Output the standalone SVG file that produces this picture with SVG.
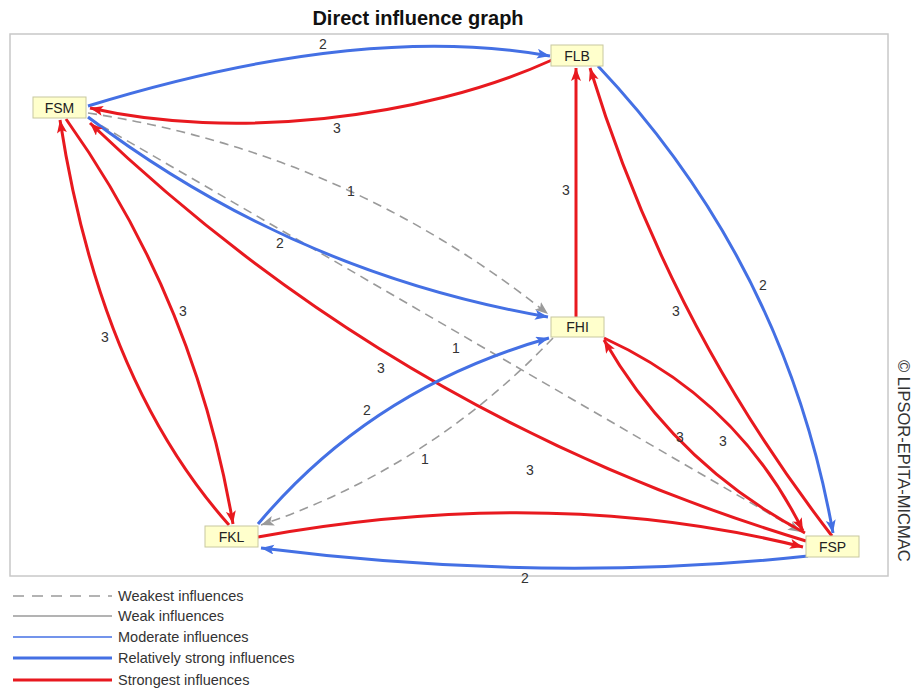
<svg xmlns="http://www.w3.org/2000/svg" width="913" height="689" viewBox="0 0 913 689">
<style>
.title{font-family:"Liberation Sans",Arial,sans-serif;font-weight:bold;font-size:20px;fill:#111}
.lbl{font-family:"Liberation Sans",Arial,sans-serif;font-size:14px;fill:#333;text-anchor:middle}
.node rect{fill:#ffffcc;stroke:#c8c8a0;stroke-width:1}
.node text{font-family:"Liberation Sans",Arial,sans-serif;font-size:14px;fill:#222;text-anchor:middle}
.leg{font-family:"Liberation Sans",Arial,sans-serif;font-size:14.5px;fill:#333}
.red{fill:none;stroke:#e8191f;stroke-width:3}
.blue{fill:none;stroke:#4470e4;stroke-width:3}
.dash{fill:none;stroke:#9a9a9a;stroke-width:1.6;stroke-dasharray:9,6}
.ar{marker-end:url(#ar)}
.ab{marker-end:url(#ab)}
.ag{marker-end:url(#ag)}
</style>
<defs>
<marker id="ar" markerUnits="userSpaceOnUse" markerWidth="14" markerHeight="12" refX="13" refY="5" orient="auto"><path d="M0,0 L13,5 L0,10 L3,5 z" fill="#e8191f"/></marker>
<marker id="ab" markerUnits="userSpaceOnUse" markerWidth="14" markerHeight="12" refX="13" refY="5" orient="auto"><path d="M0,0 L13,5 L0,10 L3,5 z" fill="#4470e4"/></marker>
<marker id="ag" markerUnits="userSpaceOnUse" markerWidth="14" markerHeight="12" refX="13" refY="5" orient="auto"><path d="M0,0 L13,5 L0,10 L3,5 z" fill="#9a9a9a"/></marker>
</defs>
<rect width="913" height="689" fill="#fff"/>
<text class="title" x="418" y="25" text-anchor="middle">Direct influence graph</text>
<rect x="10" y="34" width="878" height="542" fill="none" stroke="#c8c8c8" stroke-width="1.5"/>
<text x="898" y="360" transform="rotate(90 898 360)" font-family="Liberation Sans, Arial, sans-serif" font-size="16.5" fill="#333">© LIPSOR-EPITA-MICMAC</text>
<g id="connectors">
<path class="dash ag" d="M88,118 L801,532"/>
<path class="dash ag" d="M88,113 Q345,152 548,314"/>
<path class="dash ag" d="M553,338 Q429,468 261,525"/>
<path class="blue ab" d="M88,106 Q361,22 550,56"/>
<path class="red ar" d="M552,60 C420,120 230,140 90,108"/>
<path class="blue ab" d="M88,117 Q294,273 548,317"/>
<path class="red ar" d="M806,541 Q398,418 90,123"/>
<path class="red ar" d="M229,525 Q100,380 60,120"/>
<path class="red ar" d="M66,119 Q195,300 233,524"/>
<path class="red ar" d="M576,317 L576,68"/>
<path class="red ar" d="M832,536 Q668,324 590,68"/>
<path class="blue ab" d="M598,66 Q785,264 833,533"/>
<path class="red ar" d="M805,533 Q676,465 604,340"/>
<path class="red ar" d="M604,338 Q738,399 803,531"/>
<path class="blue ab" d="M258,524 Q372,388 549,338"/>
<path class="red ar" d="M258,537 Q550,484 803,547"/>
<path class="blue ab" d="M808,556 Q546,584 261,548"/>
<g class="lbl">
<text class="lbl" x="323" y="49">2</text>
<text class="lbl" x="337" y="133">3</text>
<text class="lbl" x="351" y="196">1</text>
<text class="lbl" x="566" y="195">3</text>
<text class="lbl" x="280" y="248">2</text>
<text class="lbl" x="183" y="316">3</text>
<text class="lbl" x="105" y="342">3</text>
<text class="lbl" x="676" y="316">3</text>
<text class="lbl" x="763" y="290">2</text>
<text class="lbl" x="456" y="353">1</text>
<text class="lbl" x="381" y="373">3</text>
<text class="lbl" x="367" y="415">2</text>
<text class="lbl" x="425" y="464">1</text>
<text class="lbl" x="680" y="442">3</text>
<text class="lbl" x="723" y="446">3</text>
<text class="lbl" x="530" y="475">3</text>
<text class="lbl" x="525" y="583">2</text>
</g>
</g>
<g id="FSM" class="node"><rect x="33" y="97" width="53" height="21"/><text x="59.5" y="112.5">FSM</text></g>
<g id="FLB" class="node"><rect x="551" y="45" width="52" height="21"/><text x="577" y="60.5">FLB</text></g>
<g id="FHI" class="node"><rect x="551" y="317" width="53" height="20"/><text x="577.5" y="332">FHI</text></g>
<g id="FKL" class="node"><rect x="205" y="526" width="53" height="21"/><text x="231.5" y="541.5">FKL</text></g>
<g id="FSP" class="node"><rect x="806" y="536" width="53" height="21"/><text x="832.5" y="551.5">FSP</text></g>
<g id="legend">
<line x1="13" y1="596" x2="112" y2="596" stroke="#9a9a9a" stroke-width="1.6" stroke-dasharray="11,8"/>
<text class="leg" x="118" y="600.5">Weakest influences</text>
<line x1="13" y1="616" x2="112" y2="616" stroke="#9a9a9a" stroke-width="1.3"/>
<text class="leg" x="118" y="621">Weak influences</text>
<line x1="13" y1="637" x2="112" y2="637" stroke="#4470e4" stroke-width="1.3"/>
<text class="leg" x="118" y="642">Moderate influences</text>
<line x1="13" y1="658" x2="112" y2="658" stroke="#4470e4" stroke-width="3"/>
<text class="leg" x="118" y="663">Relatively strong influences</text>
<line x1="13" y1="680" x2="112" y2="680" stroke="#e8191f" stroke-width="3"/>
<text class="leg" x="118" y="685">Strongest influences</text>
</g>
</svg>
